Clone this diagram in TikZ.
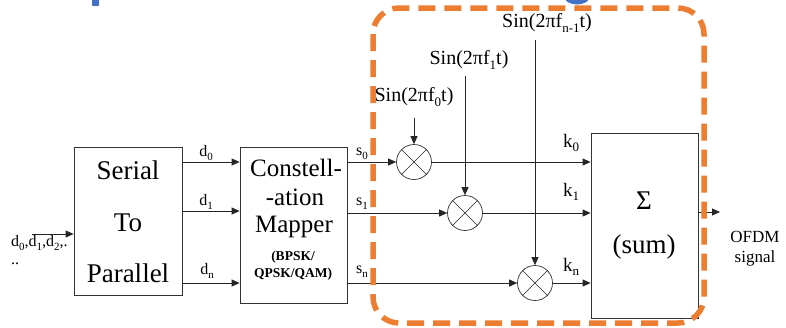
\documentclass[tikz,border=0pt]{standalone}
\usepackage{fontspec}
\setmainfont{Liberation Serif}
\usetikzlibrary{arrows.meta,calc}
\definecolor{ofg}{HTML}{ED7D31}
\definecolor{tblue}{HTML}{4472C4}
\newcommand{\fsz}[1]{\fontsize{#1}{#1}\selectfont}
\newcommand{\lsub}[2]{\raisebox{-0.25em}{\fsz{#1}#2}}
\begin{document}
\begin{tikzpicture}[x=1pt,y=-1pt,
  blk/.style={draw=black!80, line width=0.8pt, inner sep=0pt},
  mult/.style={circle, draw=black!80, line width=0.7pt, minimum size=35pt, inner sep=0pt},
  arr/.style={draw=black!85, line width=0.8pt, -{Triangle[length=8pt,width=7pt]}},
  ln/.style={draw=black!85, line width=0.8pt},
  txt/.style={inner sep=0pt, text=black},
  big/.style={txt, font=\fsz{27}},
  mid/.style={txt, font=\fsz{25}},
  sml/.style={txt, font=\bfseries\fsz{13.5}},
  lab/.style={txt, font=\fsz{16}},
  klab/.style={txt, font=\fsz{19}},
  sinl/.style={txt, font=\fsz{20}},
  outl/.style={txt, font=\fsz{17}}]
\useasboundingbox (0,0) rectangle (786,327);
% cut-off title fragments
\fill[tblue, rounded corners=1pt] (92,-3) rectangle (99,6);
\draw[tblue, line width=4.5pt] (565,-6) .. controls (566,5) and (588,5) .. (589,-6);
% blocks
\node[blk, minimum width=108pt, minimum height=148pt] (sp) at (128,221) {};
\node[big] (sp1) at (128,170) {Serial};
\node[big] (sp2) at (128,223) {To};
\node[big] (sp3) at (128,273) {Parallel};
\node[blk, minimum width=107pt, minimum height=156pt] (map) at (293.5,225) {};
\node[mid] (mp1) at (296,168) {Constell-};
\node[mid] (mp2) at (295,197) {-ation};
\node[mid] (mp3) at (294,227) {Mapper};
\node[sml] (mp4) at (293,257) {(BPSK/};
\node[sml] (mp5) at (293,274) {QPSK/QAM)};
\node[blk, minimum width=107pt, minimum height=185pt] (sum) at (644.5,225.5) {};
\node[txt, font=\fsz{27}] (sig) at (644,201) {Σ};
\node[big] (sumt) at (644,247) {(sum)};
% multipliers
\node[mult] (m0) at (414,162) {};
\node[mult] (m1) at (465,213) {};
\node[mult] (mn) at (535,283) {};
\foreach \m in {m0,m1,mn}{
  \draw[ln, line width=0.6pt] (\m.north west) -- (\m.south east);
  \draw[ln, line width=0.6pt] (\m.north east) -- (\m.south west);
}
% input
\coordinate (inp) at (32,234);
\draw[arr] (inp) -- (inp -| sp.west);
\node[lab, anchor=west] (inl) at (11,243) {d\lsub{11}{0},d\lsub{11}{1},d\lsub{11}{2},.};
\node[lab, anchor=west] (inl2) at (11,264) {..};
% d lines
\coordinate (d0) at (182,162);
\coordinate (d1) at (182,211);
\coordinate (dn) at (182,283);
\draw[arr] (d0) -- (d0 -| map.west);
\draw[arr] (d1) -- (d1 -| map.west);
\draw[arr] (dn) -- (dn -| map.west);
\node[lab] (ld0) at (206,153) {d\lsub{11}{0}};
\node[lab] (ld1) at (206,202) {d\lsub{11}{1}};
\node[lab] (ldn) at (207,271) {d\lsub{11}{n}};
% s lines
\draw[arr] (map.east |- m0) -- (m0.west);
\draw[arr] (map.east |- m1) -- (m1.west);
\draw[arr] (map.east |- mn) -- (mn.west);
\node[lab] (ls0) at (362,154) {s\lsub{11}{0}};
\node[lab] (ls1) at (362,204) {s\lsub{11}{1}};
\node[lab] (lsn) at (362,272) {s\lsub{11}{n}};
% k lines
\draw[arr] (m0.east) -- (m0 -| sum.west);
\draw[arr] (m1.east) -- (m1 -| sum.west);
\draw[arr] (mn.east) -- (mn -| sum.west);
\node[klab] (lk0) at (571,143) {k\lsub{13}{0}};
\node[klab] (lk1) at (571,192) {k\lsub{13}{1}};
\node[klab] (lkn) at (571,267) {k\lsub{13}{n}};
% carriers
\node[sinl] (sin0) at (414,97) {Sin(2πf\lsub{13}{0}t)};
\node[sinl] (sin1) at (469,60) {Sin(2πf\lsub{13}{1}t)};
\node[sinl] (sinn) at (547,23) {Sin(2πf\lsub{13}{n-1}t)};
\coordinate (t0) at (414,118);
\coordinate (t1) at (465,76);
\coordinate (tn) at (535,40);
\draw[arr] (t0) -- (m0.north);
\draw[arr] (t1) -- (m1.north);
\draw[arr] (tn) -- (mn.north);
% output
\coordinate (outp) at (720,212);
\draw[arr] (sum.east |- outp) -- (outp);
\node[outl] (o1) at (755,237) {OFDM};
\node[outl] (o2) at (755,258) {signal};
% highlight
\draw[ofg, line width=5.5pt, dash pattern=on 17pt off 9pt, rounded corners=26pt] (373,8) rectangle (704,323);
\end{tikzpicture}
\end{document}
